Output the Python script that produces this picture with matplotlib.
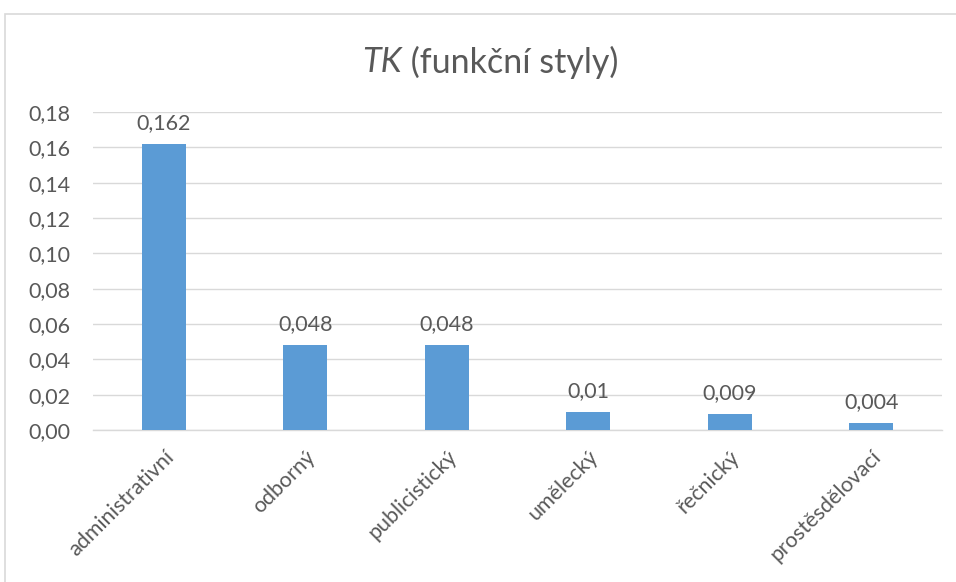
import matplotlib
matplotlib.use("Agg")
import matplotlib.pyplot as plt
from matplotlib.patches import Rectangle

categories = ["administrativní", "odborný", "publicistický", "umělecký", "řečnický", "prostěsdělovací"]
values = [0.162, 0.048, 0.048, 0.01, 0.009, 0.004]
value_labels = ["0,162", "0,048", "0,048", "0,01", "0,009", "0,004"]
yticks = [0.00, 0.02, 0.04, 0.06, 0.08, 0.10, 0.12, 0.14, 0.16, 0.18]
ytick_labels = ["0,00", "0,02", "0,04", "0,06", "0,08", "0,10", "0,12", "0,14", "0,16", "0,18"]

plt.rcParams["font.family"] = ["Lato", "DejaVu Sans"]
text_color = "#595959"
grid_color = "#D9D9D9"
bar_color = "#5B9BD5"

W, H = 956, 582
fig = plt.figure(figsize=(W / 100, H / 100), dpi=100)

# chart frame (top and left edges visible)
fig.patches.append(Rectangle((5 / W, -0.1), 1.2, 1 - 14 / H + 0.1, transform=fig.transFigure,
                             fill=False, edgecolor=grid_color, linewidth=1.2))

ax = fig.add_axes([93 / W, 1 - 430 / H, (942 - 93) / W, (430 - 112) / H])
x = list(range(len(categories)))
ax.bar(x, values, width=0.31, color=bar_color, zorder=3)
ax.set_xlim(-0.5, len(categories) - 0.5)
ax.set_ylim(0, 0.18)
ax.set_yticks(yticks)
ax.set_yticklabels(ytick_labels)
ax.set_xticks(x)
ax.set_xticklabels(categories, rotation=45, ha="right", rotation_mode="anchor")
ax.tick_params(axis="both", length=0, labelsize=15.5, labelcolor=text_color)
ax.tick_params(axis="y", pad=16)
ax.tick_params(axis="x", pad=12)
ax.grid(axis="y", color=grid_color, linewidth=1, zorder=0)
for s in ["top", "right", "left"]:
    ax.spines[s].set_visible(False)
ax.spines["bottom"].set_color(grid_color)
ax.spines["bottom"].set_linewidth(1)

for xi, v, lab in zip(x, values, value_labels):
    ax.annotate(lab, (xi, v), xytext=(0, 8), textcoords="offset points",
                ha="center", va="bottom", fontsize=15.5, color=text_color)

# title: italic "TK" followed by regular text, centred as one line
title_y = 1 - 62 / H
t1 = fig.text(0, title_y, "TK", fontsize=24.5, style="italic", color=text_color, va="center", ha="left")
t2 = fig.text(0, title_y, " (funkční styly)", fontsize=24.5, color=text_color, va="center", ha="left")
fig.canvas.draw()
r = fig.canvas.get_renderer()
w1 = t1.get_window_extent(r).width
w2 = t2.get_window_extent(r).width
start = 490.5 - (w1 + w2) / 2
t1.set_x(start / W)
t2.set_x((start + w1) / W)

fig.savefig("out.png", dpi=100)
